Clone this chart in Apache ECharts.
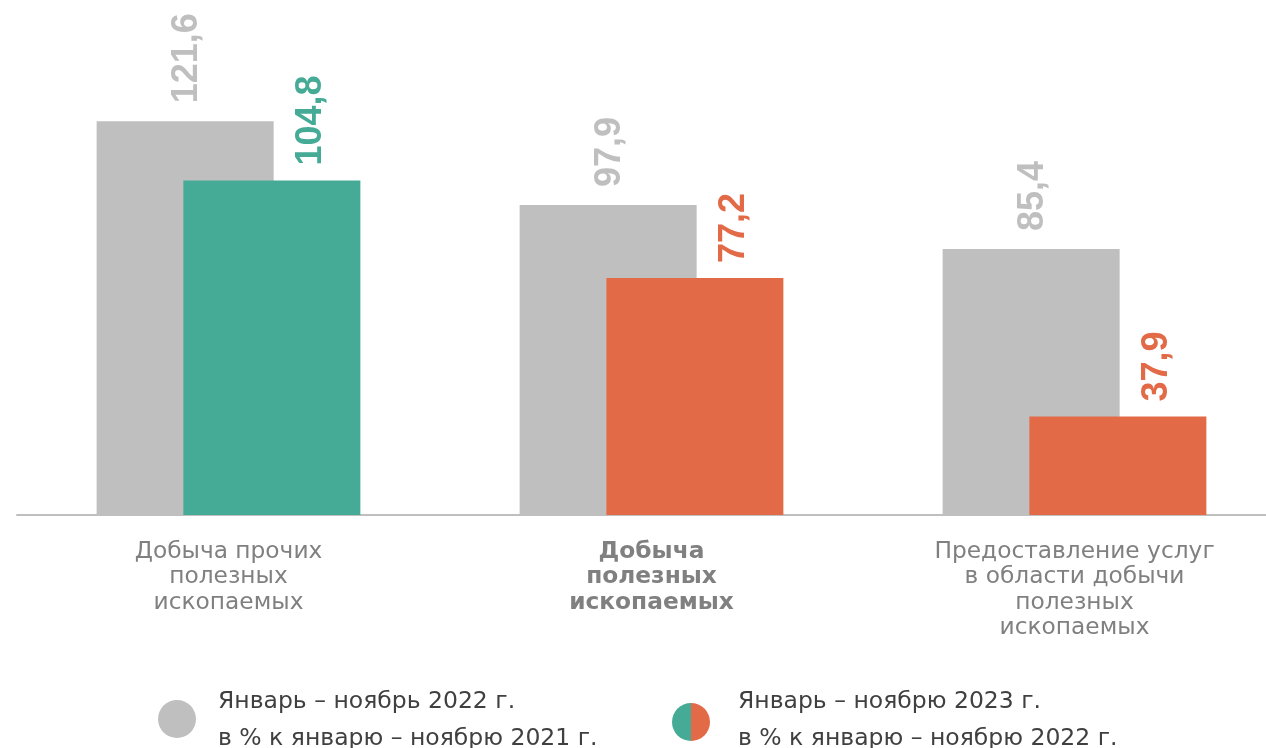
<!DOCTYPE html>
<html>
<head>
<meta charset="utf-8">
<script src="https://cdn.jsdelivr.net/npm/echarts@6/dist/echarts.min.js"></script>
<style>
  html, body { margin: 0; padding: 0; background: #fff; }
  #chart { width: 1266px; height: 748px; }
</style>
</head>
<body>
<div id="chart"></div>
<script>
const categories = ['Добыча прочих\nполезных\nископаемых', 'Добыча\nполезных\nископаемых', 'Предоставление услуг\nв области добычи\nполезных\nископаемых'];
const values2022 = [121.6, 97.9, 85.4];
const values2023 = [104.8, 77.2, 37.9];
const colors2023 = ['#46ab96', '#e36a47', '#e36a47'];
const legendTexts = ['Январь – ноябрь 2022 г.\nв % к январю – ноябрю 2021 г.', 'Январь – ноябрю 2023 г.\nв % к январю – ноябрю 2022 г.'];

const fmt = p => String(p.value).replace('.', ',');

let myChart = echarts.init(document.getElementById('chart'));
myChart.setOption({
  animation: false,
  grid: { left: 17, width: 1269, top: 0, bottom: 233, outerBoundsMode: 'none', containLabel: false },
  xAxis: {
    type: 'category',
    data: categories,
    axisTick: { show: false },
    axisLine: { lineStyle: { color: '#bfbfbf', width: 2 } },
    axisLabel: {
      interval: 0,
      margin: 24,
      color: '#808080',
      fontSize: 23.3,
      lineHeight: 25.5,
      fontFamily: 'DejaVu Sans',
      formatter: (v, i) => i === 1 ? '{b|' + v.split('\n').join('}\n{b|') + '}' : v,
      rich: { b: { fontWeight: 'bold', color: '#808080', fontSize: 23.3, lineHeight: 25.5, fontFamily: 'DejaVu Sans' } }
    }
  },
  yAxis: {
    type: 'value',
    min: 10,
    max: 156,
    show: false,
    splitLine: { show: false }
  },
  series: [
    {
      name: '2022',
      type: 'bar',
      barWidth: 177,
      barGap: '-51%',
      itemStyle: { color: '#bfbfbf' },
      label: {
        show: true,
        position: 'top',
        rotate: 90,
        align: 'left',
        verticalAlign: 'middle',
        distance: 18,
        offset: [0, 2],
        formatter: fmt,
        color: '#bfbfbf',
        fontSize: 36,
        fontWeight: 'bold',
        fontFamily: 'Liberation Sans'
      },
      data: values2022
    },
    {
      name: '2023',
      type: 'bar',
      barWidth: 177,
      barGap: '-51%',
      label: {
        show: true,
        position: 'top',
        rotate: 90,
        align: 'left',
        verticalAlign: 'middle',
        distance: 15,
        offset: [0, 39],
        formatter: fmt,
        fontSize: 36,
        fontWeight: 'bold',
        fontFamily: 'Liberation Sans'
      },
      data: values2023.map((v, i) => ({
        value: v,
        itemStyle: { color: colors2023[i] },
        label: { color: colors2023[i] }
      }))
    }
  ],
  graphic: [
    { type: 'circle', shape: { cx: 177, cy: 719, r: 19 }, style: { fill: '#bfbfbf' } },
    { type: 'text', left: 218, top: 683, style: { text: legendTexts[0], fill: '#404040', font: '23.5px DejaVu Sans', lineHeight: 37 } },
    { type: 'sector', shape: { cx: 691, cy: 722, r: 19, startAngle: Math.PI / 2, endAngle: Math.PI * 1.5 }, style: { fill: '#46ab96' } },
    { type: 'sector', shape: { cx: 691, cy: 722, r: 19, startAngle: -Math.PI / 2, endAngle: Math.PI / 2 }, style: { fill: '#e36a47' } },
    { type: 'text', left: 738, top: 683, style: { text: legendTexts[1], fill: '#404040', font: '23.5px DejaVu Sans', lineHeight: 37 } }
  ]
});
window.addEventListener('resize', () => { if (myChart) myChart.resize(); });
</script>
</body>
</html>
